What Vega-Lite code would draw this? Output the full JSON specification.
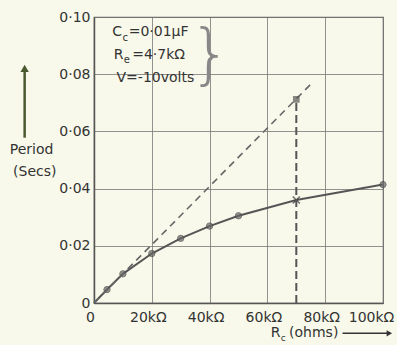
{
  "$schema": "https://vega.github.io/schema/vega-lite/v6.json",
  "width": 289,
  "height": 286,
  "autosize": {"type": "none"},
  "padding": {"left": 94, "top": 17, "right": 14, "bottom": 42},
  "background": "#f8f9ea",
  "config": {
    "view": {"stroke": "#666666", "strokeWidth": 1.2},
    "font": "DejaVu Sans"
  },
  "datasets": {
    "curve": [
      {"r": 0, "p": 0},
      {"r": 4500, "p": 0.0047},
      {"r": 10000, "p": 0.0102},
      {"r": 20000, "p": 0.0173},
      {"r": 30000, "p": 0.0226},
      {"r": 40000, "p": 0.0269},
      {"r": 50000, "p": 0.0305},
      {"r": 70000, "p": 0.036},
      {"r": 100000, "p": 0.0414}
    ],
    "dashed": [
      {"r": 0, "p": 0},
      {"r": 76000, "p": 0.0775}
    ],
    "marker": [
      {"r": 70000, "p0": 0, "p": 0.0712}
    ]
  },
  "layer": [
    {
      "data": {"name": "curve"},
      "mark": {"type": "line", "color": "#555555", "strokeWidth": 2},
      "encoding": {
        "x": {
          "field": "r", "type": "quantitative",
          "scale": {"domain": [0, 100000], "nice": false},
          "axis": {
            "values": [0, 20000, 40000, 60000, 80000, 100000],
            "title": null, "ticks": false, "domainColor": "#555555", "domainWidth": 1.5,
            "gridColor": "#777777", "gridOpacity": 0.8, "gridWidth": 1,
            "labelFontSize": 14, "labelColor": "#333333", "labelPadding": 7,
            "labelOverlap": false, "labelFlush": false, "labelBound": false,
            "labelOffset": {"condition": {"test": "datum.value == 100000", "value": -12}, "value": -4},
            "labelExpr": "datum.value == 0 ? '0' : format(datum.value/1000, 'd') + 'kΩ'"
          }
        },
        "y": {
          "field": "p", "type": "quantitative",
          "scale": {"domain": [0, 0.1], "nice": false},
          "axis": {
            "values": [0, 0.02, 0.04, 0.06, 0.08, 0.1],
            "title": null, "ticks": false, "domainColor": "#555555", "domainWidth": 1.5,
            "gridColor": "#777777", "gridOpacity": 0.8, "gridWidth": 1,
            "labelFontSize": 14, "labelColor": "#333333", "labelPadding": 4,
            "labelOverlap": false, "labelFlush": false,
            "labelExpr": "datum.value == 0 ? '0' : replace(format(datum.value, '.2f'), '.', '·')"
          }
        }
      }
    },
    {
      "data": {"name": "curve"},
      "transform": [{"filter": "datum.r > 0 && datum.r != 70000"}],
      "mark": {"type": "point", "filled": true, "color": "#666666", "size": 40, "stroke": "#444444", "strokeWidth": 1},
      "encoding": {
        "x": {"field": "r", "type": "quantitative"},
        "y": {"field": "p", "type": "quantitative"}
      }
    },
    {
      "data": {"name": "curve"},
      "transform": [{"filter": "datum.r == 70000"}],
      "mark": {"type": "point", "shape": "M-1,-1L1,1M-1,1L1,-1", "filled": false, "color": "#333333", "strokeWidth": 1.5, "size": 50},
      "encoding": {
        "x": {"field": "r", "type": "quantitative"},
        "y": {"field": "p", "type": "quantitative"}
      }
    },
    {
      "data": {"name": "dashed"},
      "mark": {"type": "line", "color": "#666666", "strokeWidth": 1.6, "strokeDash": [7, 5]},
      "encoding": {
        "x": {"field": "r", "type": "quantitative"},
        "y": {"field": "p", "type": "quantitative"}
      }
    },
    {
      "data": {"name": "marker"},
      "mark": {"type": "rule", "color": "#555555", "strokeWidth": 2, "strokeDash": [8, 4]},
      "encoding": {
        "x": {"field": "r", "type": "quantitative"},
        "y": {"field": "p0", "type": "quantitative"},
        "y2": {"field": "p"}
      }
    },
    {
      "data": {"name": "marker"},
      "mark": {"type": "point", "shape": "square", "filled": true, "color": "#555555", "size": 45},
      "encoding": {
        "x": {"field": "r", "type": "quantitative"},
        "y": {"field": "p", "type": "quantitative"}
      }
    },
    {
      "data": {"values": [{}]},
      "layer": [
        {"mark": {"type": "text", "align": "left", "baseline": "middle", "fontSize": 14, "color": "#333333", "text": "C"},
         "encoding": {"x": {"datum": 6300, "type": "quantitative"}, "y": {"datum": 0.0948, "type": "quantitative"}}},
        {"mark": {"type": "text", "align": "left", "baseline": "middle", "fontSize": 10, "color": "#333333", "text": "c"},
         "encoding": {"x": {"datum": 9900, "type": "quantitative"}, "y": {"datum": 0.0928, "type": "quantitative"}}},
        {"mark": {"type": "text", "align": "left", "baseline": "middle", "fontSize": 14, "color": "#333333", "text": "=0·01μF"},
         "encoding": {"x": {"datum": 12000, "type": "quantitative"}, "y": {"datum": 0.0948, "type": "quantitative"}}},
        {"mark": {"type": "text", "align": "left", "baseline": "middle", "fontSize": 14, "color": "#333333", "text": "R"},
         "encoding": {"x": {"datum": 6800, "type": "quantitative"}, "y": {"datum": 0.0868, "type": "quantitative"}}},
        {"mark": {"type": "text", "align": "left", "baseline": "middle", "fontSize": 10, "color": "#333333", "text": "e"},
         "encoding": {"x": {"datum": 10300, "type": "quantitative"}, "y": {"datum": 0.0850, "type": "quantitative"}}},
        {"mark": {"type": "text", "align": "left", "baseline": "middle", "fontSize": 14, "color": "#333333", "text": "=4·7kΩ"},
         "encoding": {"x": {"datum": 13200, "type": "quantitative"}, "y": {"datum": 0.0868, "type": "quantitative"}}},
        {"mark": {"type": "text", "align": "left", "baseline": "middle", "fontSize": 14, "color": "#333333", "text": "V=-10volts"},
         "encoding": {"x": {"datum": 7800, "type": "quantitative"}, "y": {"datum": 0.0788, "type": "quantitative"}}},
        {"mark": {"type": "text", "align": "center", "baseline": "middle", "fontSize": 66, "fontWeight": 100, "color": "#888888", "text": "}"},
         "encoding": {"x": {"datum": 40200, "type": "quantitative"}, "y": {"datum": 0.0862, "type": "quantitative"}}},
        {"mark": {"type": "rule", "color": "#4b5a2e", "strokeWidth": 2.5},
         "encoding": {"x": {"datum": -24000, "type": "quantitative"}, "y": {"datum": 0.0578, "type": "quantitative"}, "y2": {"datum": 0.081}}},
        {"mark": {"type": "point", "shape": "triangle-up", "filled": true, "color": "#4b5a2e", "size": 70, "opacity": 1},
         "encoding": {"x": {"datum": -24000, "type": "quantitative"}, "y": {"datum": 0.082, "type": "quantitative"}}},
        {"mark": {"type": "text", "align": "center", "baseline": "middle", "fontSize": 14, "color": "#333333", "text": "Period"},
         "encoding": {"x": {"datum": -21600, "type": "quantitative"}, "y": {"datum": 0.0536, "type": "quantitative"}}},
        {"mark": {"type": "text", "align": "center", "baseline": "middle", "fontSize": 14, "color": "#333333", "text": "(Secs)"},
         "encoding": {"x": {"datum": -20500, "type": "quantitative"}, "y": {"datum": 0.0459, "type": "quantitative"}}},
        {"mark": {"type": "text", "align": "left", "baseline": "middle", "fontSize": 14, "color": "#333333", "text": "R"},
         "encoding": {"x": {"datum": 61200, "type": "quantitative"}, "y": {"datum": -0.0106, "type": "quantitative"}}},
        {"mark": {"type": "text", "align": "left", "baseline": "middle", "fontSize": 9, "color": "#333333", "text": "c"},
         "encoding": {"x": {"datum": 64600, "type": "quantitative"}, "y": {"datum": -0.0122, "type": "quantitative"}}},
        {"mark": {"type": "text", "align": "left", "baseline": "middle", "fontSize": 14, "color": "#333333", "text": "(ohms)"},
         "encoding": {"x": {"datum": 67500, "type": "quantitative"}, "y": {"datum": -0.0106, "type": "quantitative"}}},
        {"mark": {"type": "rule", "color": "#333333", "strokeWidth": 1.5},
         "encoding": {"x": {"datum": 86000, "type": "quantitative"}, "x2": {"datum": 101500}, "y": {"datum": -0.0106, "type": "quantitative"}}},
        {"mark": {"type": "point", "shape": "triangle-right", "filled": true, "color": "#333333", "size": 40, "opacity": 1},
         "encoding": {"x": {"datum": 102200, "type": "quantitative"}, "y": {"datum": -0.0106, "type": "quantitative"}}}
      ]
    }
  ]
}
